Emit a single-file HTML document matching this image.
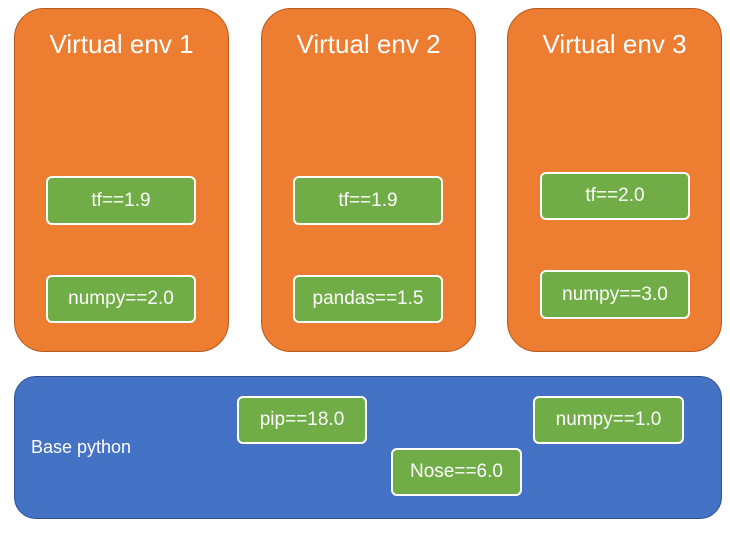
<!DOCTYPE html>
<html><head><style>
body{margin:0;width:730px;height:535px;background:#fff;position:relative;font-family:"Liberation Sans",sans-serif;overflow:hidden}
.env{position:absolute;top:8px;width:215px;height:344px;background:#ed7d31;border:1px solid #b85a1e;border-radius:30px;box-sizing:border-box}
.t{position:absolute;top:20px;width:100%;text-align:center;color:#fff;font-size:26px;left:0}
.g{position:absolute;background:#70ad47;border:2px solid #fff;border-radius:6px;box-sizing:border-box;color:#fff;font-size:19px;display:flex;align-items:center;justify-content:center}
.base{position:absolute;left:14px;top:376px;width:708px;height:143px;background:#4472c4;border:1px solid #2f528f;border-radius:22px;box-sizing:border-box}
</style></head><body>
<div class="env" style="left:14px"><div class="t">Virtual env 1</div></div>
<div class="env" style="left:261px"><div class="t">Virtual env 2</div></div>
<div class="env" style="left:507px"><div class="t">Virtual env 3</div></div>
<div class="g" style="left:46px;top:176px;width:150px;height:49px">tf==1.9</div>
<div class="g" style="left:46px;top:275px;width:150px;height:48px">numpy==2.0</div>
<div class="g" style="left:293px;top:176px;width:150px;height:49px">tf==1.9</div>
<div class="g" style="left:293px;top:275px;width:150px;height:48px">pandas==1.5</div>
<div class="g" style="left:540px;top:172px;width:150px;height:48px">tf==2.0</div>
<div class="g" style="left:540px;top:270px;width:150px;height:49px">numpy==3.0</div>
<div class="base"></div>
<div style="position:absolute;left:31px;top:437px;color:#fff;font-size:18px">Base python</div>
<div class="g" style="left:237px;top:396px;width:130px;height:48px">pip==18.0</div>
<div class="g" style="left:391px;top:448px;width:131px;height:48px">Nose==6.0</div>
<div class="g" style="left:533px;top:396px;width:151px;height:48px">numpy==1.0</div>
</body></html>
